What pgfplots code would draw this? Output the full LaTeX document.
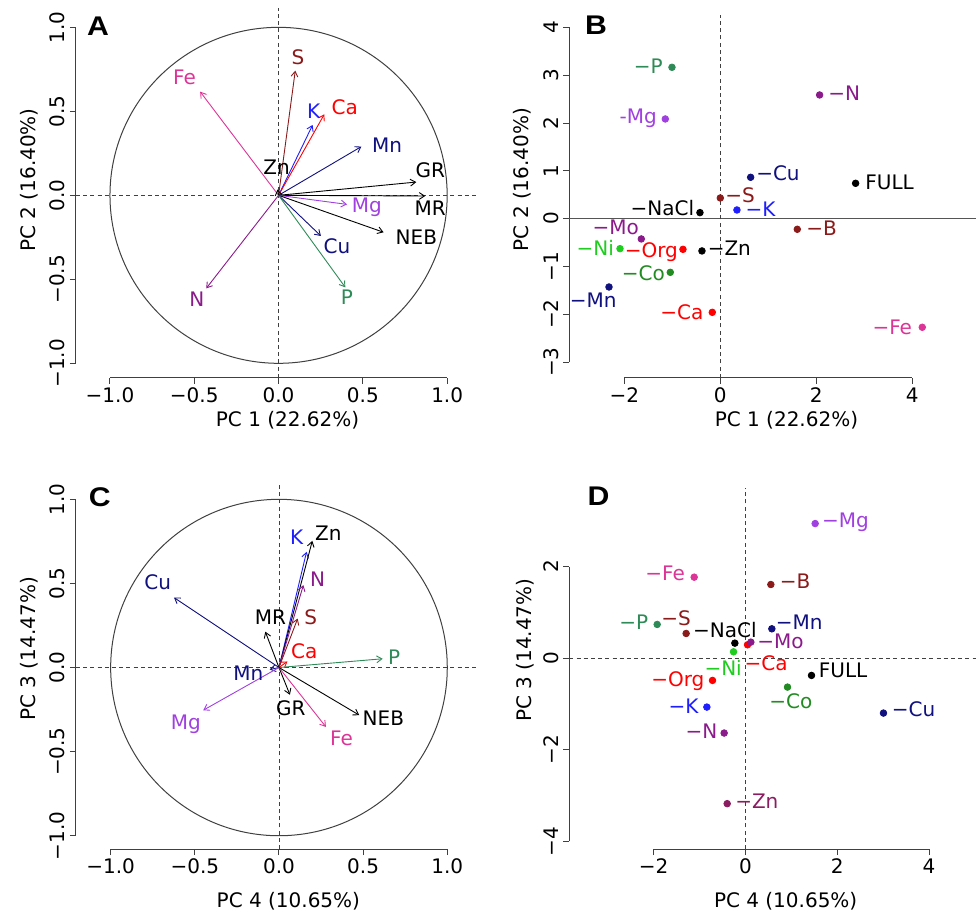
\documentclass[border=0pt]{standalone}
\usepackage{fontspec}
\setmainfont{DejaVu Sans}
\newfontfamily\panelfont{Liberation Sans}
\usepackage{pgfplots}
\pgfplotsset{compat=1.18}
\usetikzlibrary{arrows.meta}

\definecolor{axgray}{HTML}{404040}
\definecolor{hgray}{HTML}{555555}
\definecolor{cDred}{HTML}{8B1A1A}
\definecolor{cPink}{HTML}{DD3497}
\definecolor{cBlue}{HTML}{1E1EFF}
\definecolor{cRed}{HTML}{FF0000}
\definecolor{cNavy}{HTML}{10107F}
\definecolor{cPurple}{HTML}{A040E0}
\definecolor{cDmag}{HTML}{8B1A8B}
\definecolor{cSea}{HTML}{2E8B57}
\definecolor{cLime}{HTML}{1ECD1E}
\definecolor{cForest}{HTML}{228B22}
\definecolor{cMaroon}{HTML}{8B1C62}

\newcommand\lab{\fontsize{10}{12}\selectfont}

\tikzset{
  lbl/.style={font=\lab, inner sep=0pt, text height=7.3pt, text depth=0pt, anchor=center},
  panel/.style={font=\panelfont\bfseries\fontsize{13.5}{15}\selectfont, inner sep=0pt,
    text height=9.5pt, text depth=0pt, anchor=center, xscale=1.12},
  arr/.style={line width=0.45pt, -{Straight Barb[length=2.6pt, width=3.4pt, line width=0.45pt]}},
  dsh/.style={axgray, line width=0.45pt, dash pattern=on 2pt off 1.6pt},
  pt/.style={only marks, mark=*, mark size=1.65pt},
}

\pgfplotsset{
  rplot/.style={
    scale only axis, anchor=south west, clip=false,
    axis x line*=bottom, axis y line*=left,
    axis line style={draw=none},
    tick align=outside, major tick length=3pt,
    tick style={axgray, line width=0.5pt},
    xticklabel style={font=\lab, inner sep=0pt, text height=7.3pt, text depth=0pt,
      anchor=center, yshift=-5.8pt},
    yticklabel style={font=\lab, inner sep=0pt, text height=7.3pt, text depth=0pt,
      xshift=-6.3pt, rotate=90, anchor=center},
  },
  xlab/.style 2 args={every axis x label/.style={at={(axis description cs:#1,0)},
    yshift=-#2, anchor=center, font=\lab, inner sep=0pt, text height=7.3pt, text depth=0pt}},
  ylab/.style 2 args={every axis y label/.style={at={(axis description cs:0,#1)},
    xshift=-#2, rotate=90, anchor=center, font=\lab, inner sep=0pt, text height=7.3pt, text depth=0pt}},
}

\begin{document}
\begin{tikzpicture}
\useasboundingbox (0,0) rectangle (488pt,-456pt);

% ---------------- A: variables, PC1 vs PC2
\begin{axis}[rplot, at={(38pt,-188.85pt)}, width=200pt, height=184.85pt,
  xmin=-1.2015, xmax=1.171, ymin=-1.0857, ymax=1.115,
  xtick={-1,-0.5,0,0.5,1}, xticklabels={−1.0,−0.5,0.0,0.5,1.0},
  ytick={-1,-0.5,0,0.5,1}, yticklabels={−1.0,−0.5,0.0,0.5,1.0},
  xlabel={PC 1 (22.62\%)}, ylabel={PC 2 (16.40\%)},
  xlab={0.529}{20.8pt}, ylab={0.535}{24pt},
]
\draw[axgray, line width=0.5pt] (axis cs:-1,-1.0857) -- (axis cs:1,-1.0857);
\draw[axgray, line width=0.5pt] (axis cs:-1.2015,-1) -- (axis cs:-1.2015,1);
\addplot[dsh] coordinates {(-1.2015,0) (1.171,0)};
\addplot[dsh] coordinates {(0,-1.0857) (0,1.115)};
\draw[axgray, line width=0.5pt] (axis cs:0,0) ellipse [x radius=1, y radius=1];

\addplot[arr, cDred]   coordinates {(0,0) (0.099,0.742)};
\addplot[arr, cPink]   coordinates {(0,0) (-0.465,0.617)};
\addplot[arr, cBlue]   coordinates {(0,0) (0.202,0.419)};
\addplot[arr, cRed]    coordinates {(0,0) (0.271,0.482)};
\addplot[arr, cNavy]   coordinates {(0,0) (0.491,0.290)};
\addplot[arr, black]   coordinates {(0,0) (-0.006,0.035)};
\addplot[arr, black]   coordinates {(0,0) (0.817,0.079)};
\addplot[arr, black]   coordinates {(0,0) (0.870,-0.004)};
\addplot[arr, cPurple] coordinates {(0,0) (0.406,-0.054)};
\addplot[arr, black]   coordinates {(0,0) (0.623,-0.220)};
\addplot[arr, cNavy]   coordinates {(0,0) (0.251,-0.242)};
\addplot[arr, cSea]    coordinates {(0,0) (0.396,-0.548)};
\addplot[arr, cDmag]   coordinates {(0,0) (-0.429,-0.554)};

\node[lbl, cDred]   at (axis cs:0.115,0.825)  {S};
\node[lbl, cPink]   at (axis cs:-0.558,0.706) {Fe};
\node[lbl, cBlue]   at (axis cs:0.208,0.502)  {K};
\node[lbl, cRed]    at (axis cs:0.392,0.524)  {Ca};
\node[lbl, cNavy]   at (axis cs:0.643,0.296)  {Mn};
\node[lbl, black]   at (axis cs:-0.012,0.170) {Zn};
\node[lbl, black]   at (axis cs:0.900,0.147)  {GR};
\node[lbl, black]   at (axis cs:0.900,-0.077) {MR};
\node[lbl, cPurple] at (axis cs:0.524,-0.058) {Mg};
\node[lbl, black]   at (axis cs:0.817,-0.252) {NEB};
\node[lbl, cNavy]   at (axis cs:0.346,-0.302) {Cu};
\node[lbl, cSea]    at (axis cs:0.406,-0.609) {P};
\node[lbl, cDmag]   at (axis cs:-0.485,-0.619) {N};
\node[panel] at (axis cs:-1.071,1.008) {A};
\end{axis}

% ---------------- B: treatments, PC1 vs PC2
\begin{axis}[rplot, at={(284.65pt,-188.85pt)}, width=203.35pt, height=181.35pt,
  xmin=-3.146, xmax=5.327, ymin=-3.328, ymax=4.26,
  xtick={-2,0,2,4}, xticklabels={−2,0,2,4},
  ytick={-3,-2,-1,0,1,2,3,4}, yticklabels={−3,−2,−1,0,1,2,3,4},
  xlabel={PC 1 (22.62\%)}, ylabel={PC 2 (16.40\%)},
  xlab={0.534}{20.8pt}, ylab={0.546}{24pt},
]
\draw[axgray, line width=0.5pt] (axis cs:-2,-3.328) -- (axis cs:4,-3.328);
\draw[axgray, line width=0.5pt] (axis cs:-3.146,-3) -- (axis cs:-3.146,4);
\addplot[hgray, line width=0.6pt] coordinates {(-3.146,0) (5.327,0)};
\addplot[dsh] coordinates {(0,-3.328) (0,4.26)};

\addplot[pt, cSea]    coordinates {(-1.007,3.166)};
\addplot[pt, cPurple] coordinates {(-1.146,2.085)};
\addplot[pt, cDmag]   coordinates {(2.069,2.587)};
\addplot[pt, cNavy]   coordinates {(0.632,0.865)};
\addplot[pt, black]   coordinates {(2.819,0.739)};
\addplot[pt, cDred]   coordinates {(0.0,0.432)};
\addplot[pt, black]   coordinates {(-0.424,0.126)};
\addplot[pt, cBlue]   coordinates {(0.347,0.181)};
\addplot[pt, cDred]   coordinates {(1.604,-0.223)};
\addplot[pt, cDmag]   coordinates {(-1.646,-0.425)};
\addplot[pt, cLime]   coordinates {(-2.090,-0.628)};
\addplot[pt, cRed]    coordinates {(-0.778,-0.642)};
\addplot[pt, black]   coordinates {(-0.382,-0.676)};
\addplot[pt, cForest] coordinates {(-1.042,-1.123)};
\addplot[pt, cNavy]   coordinates {(-2.319,-1.430)};
\addplot[pt, cRed]    coordinates {(-0.167,-1.960)};
\addplot[pt, cPink]   coordinates {(4.208,-2.273)};

\node[lbl, cSea]    at (axis cs:-1.500,3.180)  {−P};
\node[lbl, cPurple] at (axis cs:-1.708,2.134)  {-Mg};
\node[lbl, cDmag]   at (axis cs:2.583,2.622)   {−N};
\node[lbl, cNavy]   at (axis cs:1.201,0.948)   {−Cu};
\node[lbl, black]   at (axis cs:3.528,0.753)   {FULL};
\node[lbl, cDred]   at (axis cs:0.410,0.495)   {−S};
\node[lbl, black]   at (axis cs:-1.208,0.216)  {−NaCl};
\node[lbl, cBlue]   at (axis cs:0.840,0.202)   {−K};
\node[lbl, cDred]   at (axis cs:2.111,-0.202)  {−B};
\node[lbl, cDmag]   at (axis cs:-2.180,-0.181) {−Mo};
\node[lbl, cLime]   at (axis cs:-2.604,-0.628) {−Ni};
\node[lbl, cRed]    at (axis cs:-1.437,-0.665) {−Org};
\node[lbl, black]   at (axis cs:0.188,-0.620)  {−Zn};
\node[lbl, cForest] at (axis cs:-1.604,-1.144) {−Co};
\node[lbl, cNavy]   at (axis cs:-2.646,-1.700) {−Mn};
\node[lbl, cRed]    at (axis cs:-0.800,-1.960) {−Ca};
\node[lbl, cPink]   at (axis cs:3.583,-2.266)  {−Fe};
\node[panel] at (axis cs:-2.59,4.05) {B};
\end{axis}

% ---------------- C: variables, PC4 vs PC3
\begin{axis}[rplot, at={(38pt,-424.5pt)}, width=200pt, height=182pt,
  xmin=-1.206, xmax=1.1707, ymin=-1.079, ymax=1.085,
  xtick={-1,-0.5,0,0.5,1}, xticklabels={−1.0,−0.5,0.0,0.5,1.0},
  ytick={-1,-0.5,0,0.5,1}, yticklabels={−1.0,−0.5,0.0,0.5,1.0},
  xlabel={PC 4 (10.65\%)}, ylabel={PC 3 (14.47\%)},
  xlab={0.531}{25.5pt}, ylab={0.550}{24pt},
]
\draw[axgray, line width=0.5pt] (axis cs:-1,-1.079) -- (axis cs:1,-1.079);
\draw[axgray, line width=0.5pt] (axis cs:-1.206,-1) -- (axis cs:-1.206,1);
\addplot[dsh] coordinates {(-1.206,0) (1.1707,0)};
\addplot[dsh] coordinates {(0,-1.079) (0,1.085)};
\draw[axgray, line width=0.5pt] (axis cs:0,0) ellipse [x radius=1, y radius=1];

\addplot[arr, cBlue]   coordinates {(0,0) (0.164,0.688)};
\addplot[arr, black]   coordinates {(0,0) (0.198,0.753)};
\addplot[arr, cDmag]   coordinates {(0,0) (0.145,0.490)};
\addplot[arr, cDred]   coordinates {(0,0) (0.111,0.291)};
\addplot[arr, black]   coordinates {(0,0) (-0.081,0.213)};
\addplot[arr, cNavy]   coordinates {(0,0) (-0.624,0.416)};
\addplot[arr, cRed]    coordinates {(0,0) (0.050,0.036)};
\addplot[arr, cSea]    coordinates {(0,0) (0.616,0.052)};
\addplot[arr, cNavy]   coordinates {(0,0) (-0.055,-0.012)};
\addplot[arr, cPurple] coordinates {(0,0) (-0.450,-0.254)};
\addplot[arr, black]   coordinates {(0,0) (0.065,-0.162)};
\addplot[arr, cPink]   coordinates {(0,0) (0.279,-0.353)};
\addplot[arr, black]   coordinates {(0,0) (0.477,-0.283)};

\node[lbl, cBlue]   at (axis cs:0.105,0.777)  {K};
\node[lbl, black]   at (axis cs:0.293,0.800)  {Zn};
\node[lbl, cDmag]   at (axis cs:0.230,0.525)  {N};
\node[lbl, cDred]   at (axis cs:0.188,0.301)  {S};
\node[lbl, black]   at (axis cs:-0.050,0.301) {MR};
\node[lbl, cNavy]   at (axis cs:-0.721,0.505) {Cu};
\node[lbl, cRed]    at (axis cs:0.150,0.097)  {Ca};
\node[lbl, cSea]    at (axis cs:0.685,0.063)  {P};
\node[lbl, cNavy]   at (axis cs:-0.182,-0.032) {Mn};
\node[lbl, cPurple] at (axis cs:-0.554,-0.323) {Mg};
\node[lbl, black]   at (axis cs:0.071,-0.240) {GR};
\node[lbl, cPink]   at (axis cs:0.372,-0.418) {Fe};
\node[lbl, black]   at (axis cs:0.620,-0.303) {NEB};
\node[panel] at (axis cs:-1.064,1.014) {C};
\end{axis}

% ---------------- D: treatments, PC4 vs PC3
\begin{axis}[rplot, at={(284.65pt,-424.5pt)}, width=203.35pt, height=180.5pt,
  xmin=-3.839, xmax=5.022, ymin=-4.168, ymax=3.714,
  xtick={-2,0,2,4}, xticklabels={−2,0,2,4},
  ytick={-4,-2,0,2}, yticklabels={−4,−2,0,2},
  xlabel={PC 4 (10.65\%)}, ylabel={PC 3 (14.47\%)},
  xlab={0.532}{25.5pt}, ylab={0.551}{22.5pt},
]
\draw[axgray, line width=0.5pt] (axis cs:-2,-4.168) -- (axis cs:4,-4.168);
\draw[axgray, line width=0.5pt] (axis cs:-3.839,-4) -- (axis cs:-3.839,2);
\addplot[dsh] coordinates {(-3.839,0) (5.022,0)};
\addplot[dsh] coordinates {(0,-4.168) (0,3.714)};

\addplot[pt, cPurple] coordinates {(1.518,2.938)};
\addplot[pt, cPink]   coordinates {(-1.118,1.767)};
\addplot[pt, cDred]   coordinates {(0.552,1.607)};
\addplot[pt, cSea]    coordinates {(-1.924,0.735)};
\addplot[pt, cDred]   coordinates {(-1.293,0.538)};
\addplot[pt, black]   coordinates {(-0.232,0.327)};
\addplot[pt, cNavy]   coordinates {(0.574,0.640)};
\addplot[pt, cRed]    coordinates {(0.044,0.291)};
\addplot[pt, cDmag]   coordinates {(0.116,0.349)};
\addplot[pt, cLime]   coordinates {(-0.261,0.138)};
\addplot[pt, black]   coordinates {(1.438,-0.378)};
\addplot[pt, cRed]    coordinates {(-0.719,-0.487)};
\addplot[pt, cForest] coordinates {(0.915,-0.633)};
\addplot[pt, cBlue]   coordinates {(-0.842,-1.069)};
\addplot[pt, cNavy]   coordinates {(3.006,-1.200)};
\addplot[pt, cDmag]   coordinates {(-0.465,-1.636)};
\addplot[pt, cMaroon] coordinates {(-0.399,-3.178)};

\node[lbl, cPurple] at (axis cs:2.179,3.011)   {−Mg};
\node[lbl, cPink]   at (axis cs:-1.750,1.847)  {−Fe};
\node[lbl, cDred]   at (axis cs:1.082,1.680)   {−B};
\node[lbl, cSea]    at (axis cs:-2.433,0.793)  {−P};
\node[lbl, cDred]   at (axis cs:-1.510,0.880)  {−S};
\node[lbl, black]   at (axis cs:-0.450,0.611)  {−NaCl};
\node[lbl, cNavy]   at (axis cs:1.169,0.778)   {−Mn};
\node[lbl, cDmag]   at (axis cs:0.763,0.378)   {−Mo};
\node[lbl, cRed]    at (axis cs:0.450,-0.102)  {−Ca};
\node[lbl, cLime]   at (axis cs:-0.487,-0.225) {−Ni};
\node[lbl, black]   at (axis cs:2.128,-0.262)  {FULL};
\node[lbl, cRed]    at (axis cs:-1.474,-0.465) {−Org};
\node[lbl, cForest] at (axis cs:0.988,-0.938)  {−Co};
\node[lbl, cBlue]   at (axis cs:-1.351,-1.047) {−K};
\node[lbl, cNavy]   at (axis cs:3.660,-1.120)  {−Cu};
\node[lbl, cDmag]   at (axis cs:-0.959,-1.593) {−N};
\node[lbl, cMaroon] at (axis cs:0.247,-3.120)  {−Zn};
\node[panel] at (axis cs:-3.20,3.54) {D};
\end{axis}
\end{tikzpicture}
\end{document}
